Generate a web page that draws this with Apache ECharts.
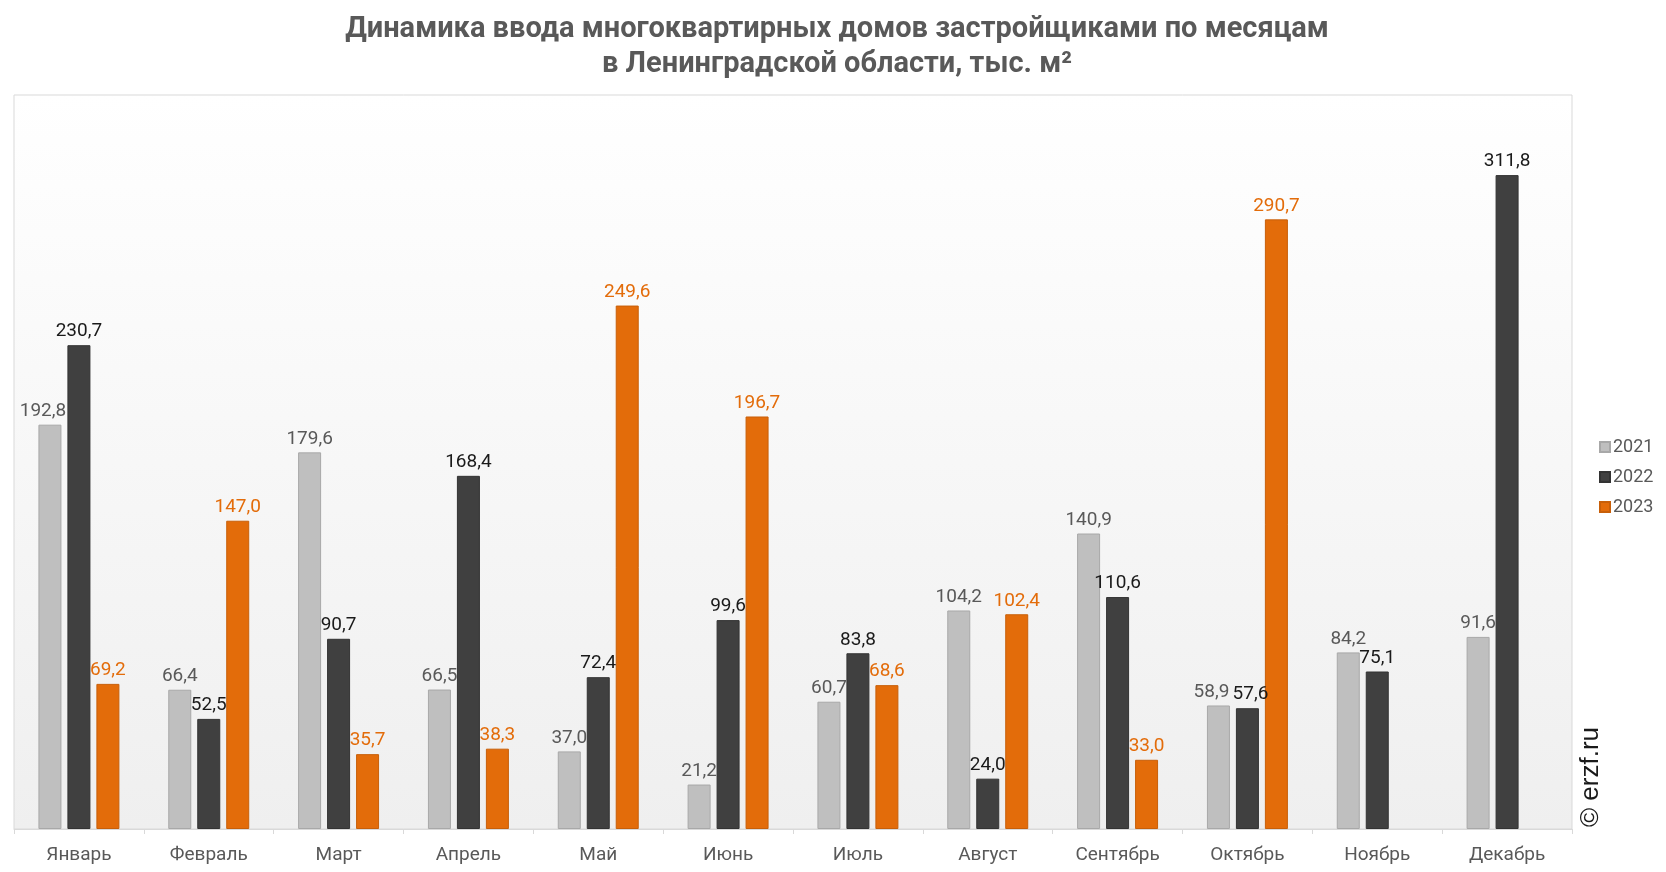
<!DOCTYPE html>
<html><head><meta charset="utf-8">
<script src="https://cdn.jsdelivr.net/npm/echarts@6/dist/echarts.min.js"></script>
<style>html,body{margin:0;padding:0;background:#fff}#c{width:1666px;height:872px}</style>
</head><body><div id="c"></div>
<script>
const categories = ['Январь','Февраль','Март','Апрель','Май','Июнь','Июль','Август','Сентябрь','Октябрь','Ноябрь','Декабрь'];
const seriesNames = ['2021','2022','2023'];
const v2021 = [192.8, 66.4, 179.6, 66.5, 37.0, 21.2, 60.7, 104.2, 140.9, 58.9, 84.2, 91.6];
const v2022 = [230.7, 52.5, 90.7, 168.4, 72.4, 99.6, 83.8, 24.0, 110.6, 57.6, 75.1, 311.8];
const v2023 = [69.2, 147.0, 35.7, 38.3, 249.6, 196.7, 68.6, 102.4, 33.0, 290.7, null, null];
const titleText = 'Динамика ввода многоквартирных домов застройщиками по месяцам\nв Ленинградской области, тыс. м²';

const colors = ['#bfbfbf', '#404040', '#e36c0a'];
const borders = ['#a8a8a8', '#333333', '#c85f09'];
const labelColors = ['#595959', '#1a1a1a', '#e36c0a'];
const fmt = p => p.value == null ? '' : p.value.toFixed(1).replace('.', ',');
const allData = [v2021, v2022, v2023];

const chart = echarts.init(document.getElementById('c'));
const barSeries = allData.map((data, i) => ({
  name: seriesNames[i], type: 'bar', data, xAxisIndex: 0, z: 2,
  barWidth: 23, barGap: '26%',
  itemStyle: { color: colors[i], borderColor: borders[i], borderWidth: 1 },
  label: { show: false }
}));
// label overlay so value labels are drawn above neighbouring bars
const labelSeries = allData.map((data, i) => ({
  name: 'lbl' + seriesNames[i], type: 'bar', data, xAxisIndex: 1, z: 10,
  barWidth: 23, barGap: '26%', silent: true,
  itemStyle: { color: 'rgba(0,0,0,0)' },
  label: { show: true, position: 'top', distance: 4, formatter: fmt,
    color: labelColors[i], fontSize: 19, fontFamily: 'Roboto' },
  labelLayout: p => {
    // nudge crowded labels apart like the original
    if (i === 0 && (p.dataIndex === 0 || p.dataIndex === 9)) return { dx: -7 };
    if (i === 1 && p.dataIndex === 9) return { dx: 3 };
    return {};
  }
}));
chart.setOption({
  animation: false,
  textStyle: { fontFamily: 'Roboto' },
  title: { text: titleText, left: 832, textAlign: 'center', top: 7,
    textStyle: { fontSize: 29, fontWeight: 'bold', color: '#595959', lineHeight: 35, fontFamily: 'Roboto' } },
  legend: { data: seriesNames, orient: 'vertical', left: 1594, top: 433, itemWidth: 10, itemHeight: 10, itemGap: 12,
    icon: 'rect', textStyle: { fontSize: 18, color: '#595959', padding: [0,0,0,-2] } },
  grid: { left: 14, top: 95, right: 94, bottom: 43, show: true, borderColor: '#d9d9d9', borderWidth: 1,
    backgroundColor: new echarts.graphic.LinearGradient(0, 0, 0, 1, [
      { offset: 0, color: '#ffffff' }, { offset: 1, color: '#efefef' } ]) },
  xAxis: [
    { type: 'category', data: categories,
      axisLine: { lineStyle: { color: '#d9d9d9' } },
      axisTick: { show: true, length: 5, lineStyle: { color: '#d9d9d9' } },
      axisLabel: { fontSize: 19, color: '#595959', margin: 17 } },
    { type: 'category', data: categories, show: false, position: 'bottom' }
  ],
  yAxis: { type: 'value', min: 0, max: 350, show: false, splitLine: { show: false } },
  graphic: [{ type: 'text', left: 1578, top: 727, rotation: Math.PI / 2,
    style: { text: '© erzf.ru', fontSize: 26, fill: '#1a1a1a', fontFamily: 'Liberation Sans' } }],
  series: barSeries.concat(labelSeries)
});
</script></body></html>
